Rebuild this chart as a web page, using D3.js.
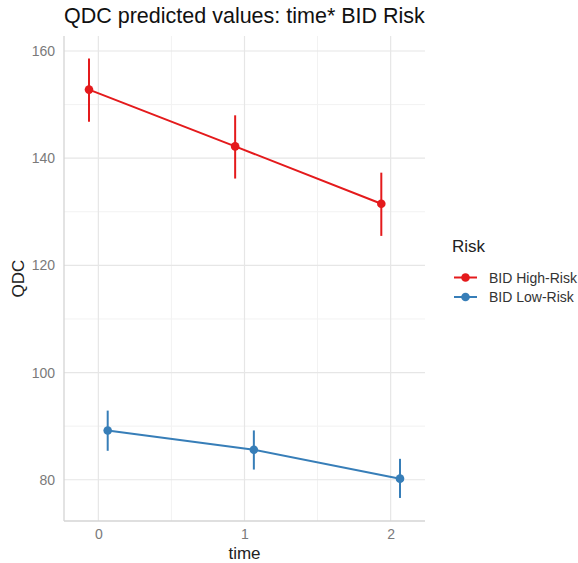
<!DOCTYPE html>
<html><head><meta charset="utf-8">
<script src="https://cdn.jsdelivr.net/npm/d3@7"></script>
<style>body{margin:0;background:#fff;} svg{display:block;font-family:"Liberation Sans",Arial,sans-serif;}</style>
</head><body>
<svg id="c" width="578" height="563"></svg>
<script>
const times = [0, 1, 2];
const groups = ["BID High-Risk", "BID Low-Risk"];
const colors = ["#E41A1C", "#377EB8"];
const highEst = [152.8, 142.2, 131.5];
const highLo = [146.8, 136.2, 125.5];
const highHi = [158.6, 148.0, 137.3];
const lowEst = [89.2, 85.6, 80.2];
const lowLo = [85.4, 81.9, 76.6];
const lowHi = [92.9, 89.2, 83.9];
const dodge = [-0.064, 0.064];
const yTicks = [80, 100, 120, 140, 160];
const yMinor = [90, 110, 130, 150];
const xMinor = [0.5, 1.5];

const series = [
  {name: groups[0], est: highEst, lo: highLo, hi: highHi},
  {name: groups[1], est: lowEst, lo: lowLo, hi: lowHi}
];

const svg = d3.select("#c");
const pL = 64, pR = 425, pT = 36, pB = 521;
const x = d3.scaleLinear().domain([-0.235, 2.235]).range([pL, pR]);
const y = d3.scaleLinear().domain([72.3, 162.8]).range([pB, pT]);

const g = svg.append("g");
// minor grid
g.selectAll(".ym").data(yMinor).join("line")
  .attr("x1", pL).attr("x2", pR).attr("y1", d => y(d)).attr("y2", d => y(d))
  .attr("stroke", "#f2f2f2").attr("stroke-width", 1);
g.selectAll(".xm").data(xMinor).join("line")
  .attr("y1", pT).attr("y2", pB).attr("x1", d => x(d)).attr("x2", d => x(d))
  .attr("stroke", "#f2f2f2").attr("stroke-width", 1);
// major grid
g.selectAll(".yM").data(yTicks).join("line")
  .attr("x1", pL).attr("x2", pR).attr("y1", d => y(d)).attr("y2", d => y(d))
  .attr("stroke", "#e6e6e6").attr("stroke-width", 1.2);
g.selectAll(".xM").data(times).join("line")
  .attr("y1", pT).attr("y2", pB).attr("x1", d => x(d)).attr("x2", d => x(d))
  .attr("stroke", "#e6e6e6").attr("stroke-width", 1.2);

// axes
const yAxis = d3.axisLeft(y).tickValues(yTicks).tickSize(0).tickPadding(9);
const xAxis = d3.axisBottom(x).tickValues(times).tickSize(0).tickPadding(8).tickFormat(d3.format("d"));
const ya = svg.append("g").attr("transform", `translate(${pL},0)`).call(yAxis);
const xa = svg.append("g").attr("transform", `translate(0,${pB})`).call(xAxis);
[ya, xa].forEach(a => {
  a.select(".domain").remove();
  a.selectAll("text").attr("fill", "#7a7a7a").style("font-size", "14px").style("font-family", "Liberation Sans, Arial, sans-serif");
});
svg.append("line").attr("x1", pL).attr("x2", pL).attr("y1", pT).attr("y2", pB).attr("stroke", "#d4d4d4").attr("stroke-width", 1.3);
svg.append("line").attr("x1", pL).attr("x2", pR).attr("y1", pB).attr("y2", pB).attr("stroke", "#d4d4d4").attr("stroke-width", 1.3);

// data
series.forEach((s, i) => {
  const pts = times.map((t, k) => ({x: t + dodge[i], est: s.est[k], lo: s.lo[k], hi: s.hi[k]}));
  const line = d3.line().x(d => x(d.x)).y(d => y(d.est));
  svg.append("path").datum(pts).attr("d", line).attr("fill", "none")
    .attr("stroke", colors[i]).attr("stroke-width", 2);
  svg.selectAll(".eb" + i).data(pts).join("line")
    .attr("x1", d => x(d.x)).attr("x2", d => x(d.x))
    .attr("y1", d => y(d.lo)).attr("y2", d => y(d.hi))
    .attr("stroke", colors[i]).attr("stroke-width", 2);
  svg.selectAll(".pt" + i).data(pts).join("circle")
    .attr("cx", d => x(d.x)).attr("cy", d => y(d.est)).attr("r", 4.3)
    .attr("fill", colors[i]);
});

// title and labels
svg.append("text").attr("x", pL).attr("y", 23).text("QDC predicted values: time* BID Risk")
  .attr("fill", "#111").style("font-size", "21.5px");
svg.append("text").attr("x", (pL + pR) / 2).attr("y", 559).attr("text-anchor", "middle")
  .text("time").attr("fill", "#222").style("font-size", "17px");
svg.append("text").attr("transform", `translate(24,${(pT + pB) / 2}) rotate(-90)`)
  .attr("text-anchor", "middle").text("QDC").attr("fill", "#222").style("font-size", "17px");

// legend
const lg = svg.append("g");
lg.append("text").attr("x", 452).attr("y", 252).text("Risk").attr("fill", "#222").style("font-size", "17px");
groups.forEach((name, i) => {
  const yy = 277.5 + i * 19.5;
  lg.append("line").attr("x1", 454).attr("x2", 477).attr("y1", yy).attr("y2", yy)
    .attr("stroke", colors[i]).attr("stroke-width", 2);
  lg.append("circle").attr("cx", 465.5).attr("cy", yy).attr("r", 4.3).attr("fill", colors[i]);
  lg.append("text").attr("x", 489).attr("y", yy + 5).text(name).attr("fill", "#333").style("font-size", "14px");
});
</script>
</body></html>
